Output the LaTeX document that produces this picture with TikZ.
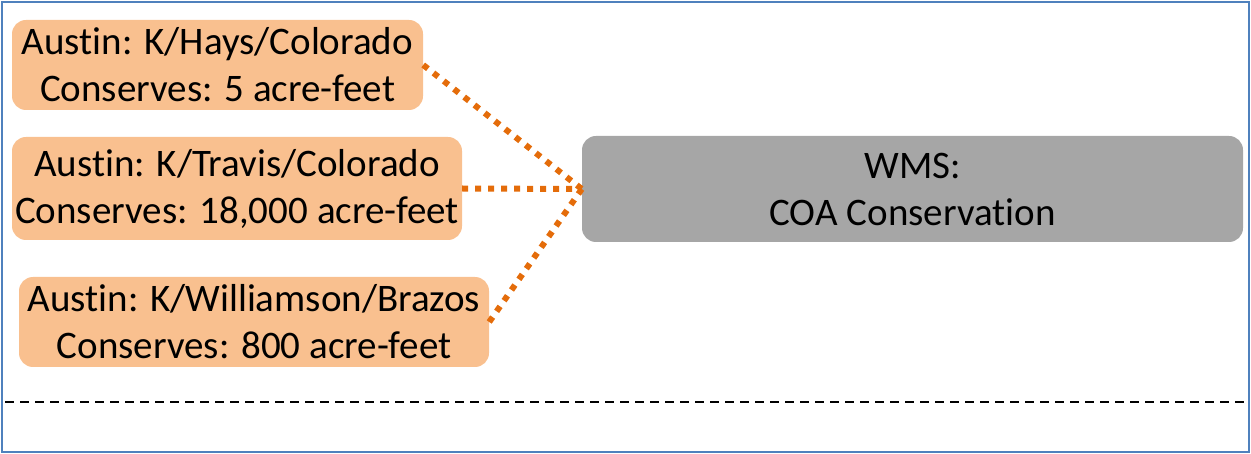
\documentclass[tikz,border=0pt]{standalone}
\usepackage{fontspec}
\setmainfont[Ligatures=NoCommon]{Carlito}
\definecolor{siteorange}{HTML}{F9C08F}
\definecolor{linkorange}{HTML}{E46C0A}
\definecolor{wmsgray}{HTML}{A6A6A6}
\definecolor{framblue}{HTML}{4F81BD}
\begin{document}
\begin{tikzpicture}[x=1pt,y=-1pt]
\tikzset{ site/.style={fill=siteorange, rounded corners=14pt, align=center, inner sep=0pt, font=\fontsize{39}{47}\selectfont},
          wms/.style={site, fill=wmsgray},
          link/.style={linkorange, line width=6pt, dash pattern=on 6pt off 7pt}, }

\useasboundingbox (0,0) rectangle (1251,454);
\draw [framblue, line width=2pt] (2,2) rectangle (1249,452);

\node [site, minimum width=411, minimum height=90]  (HAYS)   at (217.5,65)  {Austin: K/Hays/Colorado\\Conserves: 5 acre-feet};
\node [site, minimum width=450, minimum height=103] (TRAVIS) at (237,188.5) {Austin: K/Travis/Colorado\\Conserves: 18,000 acre-feet};
\node [site, minimum width=470, minimum height=90]  (WILL)   at (254,322)   {Austin: K/Williamson/Brazos\\Conserves: 800 acre-feet};

\node [wms, minimum width=661, minimum height=106]  (WMS)    at (912.5,189) {WMS:\\COA Conservation};

\draw [link] (HAYS.east)   -- (WMS.west);
\draw [link] (TRAVIS.east) -- (WMS.west);
\draw [link] (WILL.east)   -- (WMS.west);

\draw [black, line width=2.5pt, dash pattern=on 9pt off 6pt] (5,402) -- (1248,402);

\end{tikzpicture}
\end{document}
